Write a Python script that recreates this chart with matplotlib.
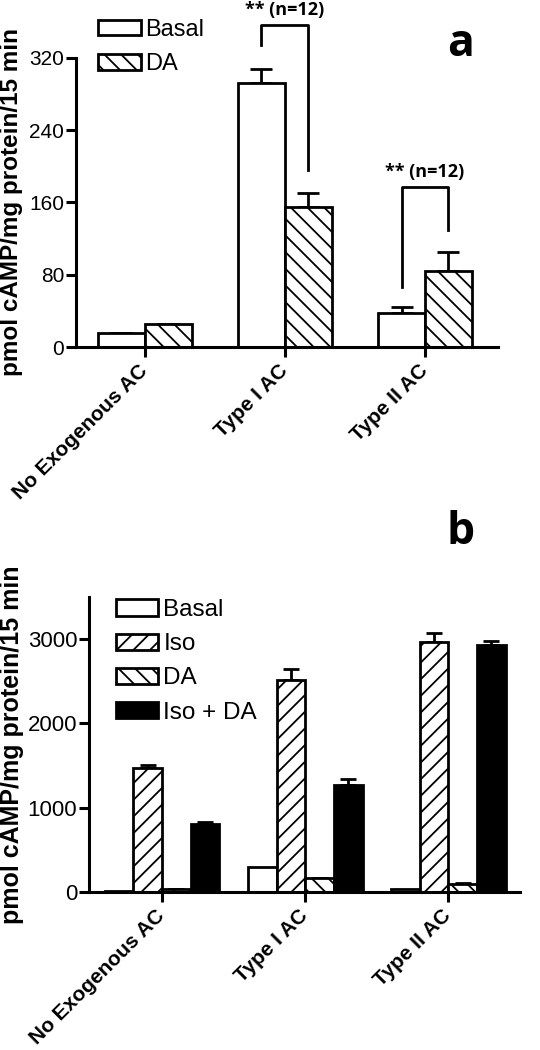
import numpy as np
import matplotlib
matplotlib.use('Agg')
import matplotlib.pyplot as plt

plt.rcParams['font.family'] = ['Liberation Sans', 'DejaVu Sans']
plt.rcParams['hatch.linewidth'] = 1.3

groups = ['No Exogenous AC', 'Type I AC', 'Type II AC']

# panel a
a_basal = [15, 292, 38]
a_basal_err = [0, 16, 6]
a_da = [26, 155, 84]
a_da_err = [0, 16, 21]

# panel b
b_labels = ['Basal', 'Iso', 'DA', 'Iso + DA']
b_vals = {
    'Basal': [15, 297, 30],
    'Iso': [1473, 2515, 2962],
    'DA': [35, 166, 100],
    'Iso + DA': [804, 1275, 2930],
}
b_errs = {
    'Basal': [0, 0, 0],
    'Iso': [32, 126, 107],
    'DA': [0, 0, 10],
    'Iso + DA': [26, 60, 48],
}

styles = {
    'Basal': dict(color='white', hatch=None),
    'Iso': dict(color='white', hatch='//'),
    'DA': dict(color='white', hatch='\\\\'),
    'Iso + DA': dict(color='black', hatch=None),
}

fig = plt.figure(figsize=(5.4, 10.5), dpi=100)
ax1 = fig.add_axes([0.1407, 0.6695, 0.7813, 0.2753])
ax2 = fig.add_axes([0.1648, 0.1505, 0.7982, 0.2809])

x = np.arange(len(groups))
ylab = 'pmol cAMP/mg protein/15 min'


def style_axes(ax):
    for s in ['top', 'right']:
        ax.spines[s].set_visible(False)
    for s in ['left', 'bottom']:
        ax.spines[s].set_linewidth(2.2)
    ax.tick_params(axis='both', width=2.2, length=7, direction='out')
    ax.tick_params(axis='y', labelsize=15, pad=1.5)
    ax.tick_params(axis='x', pad=8)
    ax.set_xticks(x)
    ax.set_xticklabels(groups, rotation=45, ha='right', va='center',
                       rotation_mode='anchor', fontsize=15, fontweight='bold')


# ---- panel a
w = 0.335
ax1.bar(x - w / 2, a_basal, w, color='white', edgecolor='black', linewidth=2,
        label='Basal', zorder=2)
ax1.bar(x + w / 2, a_da, w, color='white', edgecolor='black', linewidth=2,
        hatch='\\\\', label='DA', zorder=2)
ax1.errorbar(x - w / 2, a_basal, yerr=[np.zeros(3), a_basal_err], fmt='none',
             ecolor='black', elinewidth=2, capsize=8, capthick=2, zorder=1)
ax1.errorbar(x + w / 2, a_da, yerr=[np.zeros(3), a_da_err], fmt='none',
             ecolor='black', elinewidth=2, capsize=8, capthick=2, zorder=1)
ax1.set_xlim(-0.49, 2.52)
ax1.set_ylim(0, 320)
ax1.set_yticks([0, 80, 160, 240, 320])
style_axes(ax1)
ax1.set_ylabel(ylab, fontsize=17.5, fontweight='bold')
ax1.yaxis.set_label_coords(-0.125, 0.5)
ax1.legend(loc='upper left', bbox_to_anchor=(0.03, 1.168), frameon=False,
           fontsize=17, handlelength=1.8, handleheight=0.65, handletextpad=0.2,
           labelspacing=0.52, borderaxespad=0)

# significance brackets
brackets = [
    (1 - w / 2, 1 + w / 2, 334, 196, 356),
    (2 - w / 2, 2 + w / 2, 67, 129, 177),
]
for xl, xr, yl, yr, top in brackets:
    ax1.plot([xl, xl, xr, xr], [yl, top, top, yr], color='black', lw=2,
             clip_on=False)
    ax1.text((xl + xr) / 2, top + 7, '** (n=12)', ha='center', va='bottom',
             fontsize=13, fontweight='bold', family=['Open Sans', 'DejaVu Sans'])

fig.text(0.853, 0.958, 'a', fontsize=32, fontweight='bold', ha='center',
         va='center', family=['Open Sans', 'DejaVu Sans'])

# ---- panel b
wb = 0.2
offs = [-1.5, -0.5, 0.5, 1.5]
for lab, o in zip(b_labels, offs):
    st = styles[lab]
    ax2.bar(x + o * wb, b_vals[lab], wb, color=st['color'], edgecolor='black',
            linewidth=2, hatch=st['hatch'], label=lab, zorder=2)
    if any(b_errs[lab]):
        ax2.errorbar(x + o * wb, b_vals[lab], yerr=[np.zeros(3), b_errs[lab]],
                     fmt='none', ecolor='black', elinewidth=2, capsize=6,
                     capthick=2, zorder=1)
ax2.set_xlim(-0.51, 2.5)
ax2.set_ylim(0, 3500)
ax2.set_yticks([0, 1000, 2000, 3000])
style_axes(ax2)
ax2.tick_params(axis='y', labelsize=16)
ax2.set_ylabel(ylab, fontsize=18, fontweight='bold')
ax2.yaxis.set_label_coords(-0.15, 0.5)
ax2.legend(loc='upper left', bbox_to_anchor=(0.04, 1.026), frameon=False,
           fontsize=17.5, handlelength=1.75, handleheight=0.65,
           handletextpad=0.2, labelspacing=0.5, borderaxespad=0)

fig.text(0.853, 0.493, 'b', fontsize=32, fontweight='bold', ha='center',
         va='center', family=['Open Sans', 'DejaVu Sans'])

fig.savefig('out.png', dpi=100)
